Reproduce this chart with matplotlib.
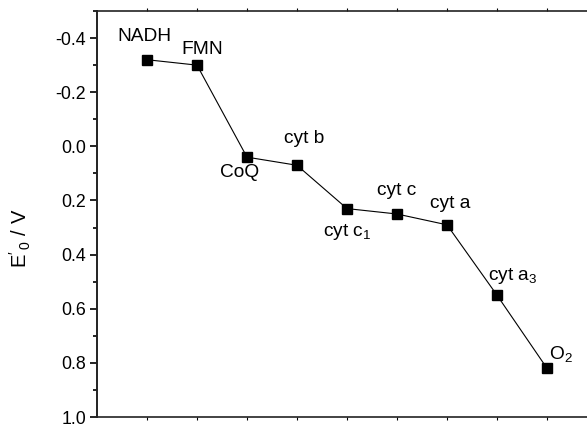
import matplotlib
matplotlib.use("Agg")
import matplotlib.pyplot as plt
from matplotlib.ticker import MultipleLocator, FixedLocator, NullFormatter

plt.rcParams['font.family'] = ['Liberation Sans', 'DejaVu Sans']
plt.rcParams['mathtext.fontset'] = 'custom'
plt.rcParams['mathtext.rm'] = 'Liberation Sans'
plt.rcParams['mathtext.it'] = 'Liberation Sans:italic'

carriers = [r"NADH", r"FMN", r"CoQ", r"cyt b", r"cyt c$\mathregular{_1}$", r"cyt c",
            r"cyt a", r"cyt a$\mathregular{_3}$", r"O$\mathregular{_2}$"]
positions = [1, 2, 3, 4, 5, 6, 7, 8, 9]
potentials = [-0.32, -0.30, 0.04, 0.07, 0.23, 0.25, 0.29, 0.55, 0.82]
yticks = [-0.4, -0.2, 0.0, 0.2, 0.4, 0.6, 0.8, 1.0]
ytick_labels = ["-0.4", "-0.2", "0.0", "0.2", "0.4", "0.6", "0.8", "1.0"]

# label offsets in points (dx, dy)
offsets = [(-2, 17), (4, 11), (-5, -11), (5, 19), (0, -17), (0, 17), (2, 15.5), (11, 14), (10, 10)]

fig = plt.figure(figsize=(5.87, 4.24), dpi=100)
ax = fig.add_axes([97/587, 1-417/424, 500/587, 406/424])

ax.plot(positions, potentials, color='black', lw=0.8, marker='s', ms=6.5,
        markerfacecolor='black', markeredgecolor='black')

for x, y, lab, (dx, dy) in zip(positions, potentials, carriers, offsets):
    ax.annotate(lab, (x, y), xytext=(dx, dy), textcoords='offset points',
                ha='center', va='center', fontsize=13.8)

ax.set_xlim(0, 10)
ax.set_ylim(1.0, -0.5)
ax.set_yticks(yticks)
ax.set_yticklabels(ytick_labels)
ax.yaxis.set_minor_locator(MultipleLocator(0.1))
ax.xaxis.set_major_locator(FixedLocator(positions))
ax.xaxis.set_major_formatter(NullFormatter())

ax.tick_params(axis='y', which='major', direction='out', length=5, width=1.2, labelsize=12.8, pad=3)
ax.tick_params(axis='y', which='minor', direction='out', length=3, width=1.2)
ax.tick_params(axis='x', which='major', direction='out', length=2.5, width=0.8,
               top=True, labeltop=False, bottom=True, labelbottom=False)

for s in ['left']:
    ax.spines[s].set_linewidth(1.4)
for s in ['top', 'bottom', 'right']:
    ax.spines[s].set_linewidth(1.2)
for s in ax.spines.values():
    s.set_color('#222222')

ax.set_ylabel(r"$\mathregular{E'_{\,0}}$ / V", fontsize=14.5)
ax.yaxis.set_label_coords(-0.128, 0.44)

fig.savefig("out.png", dpi=100)
